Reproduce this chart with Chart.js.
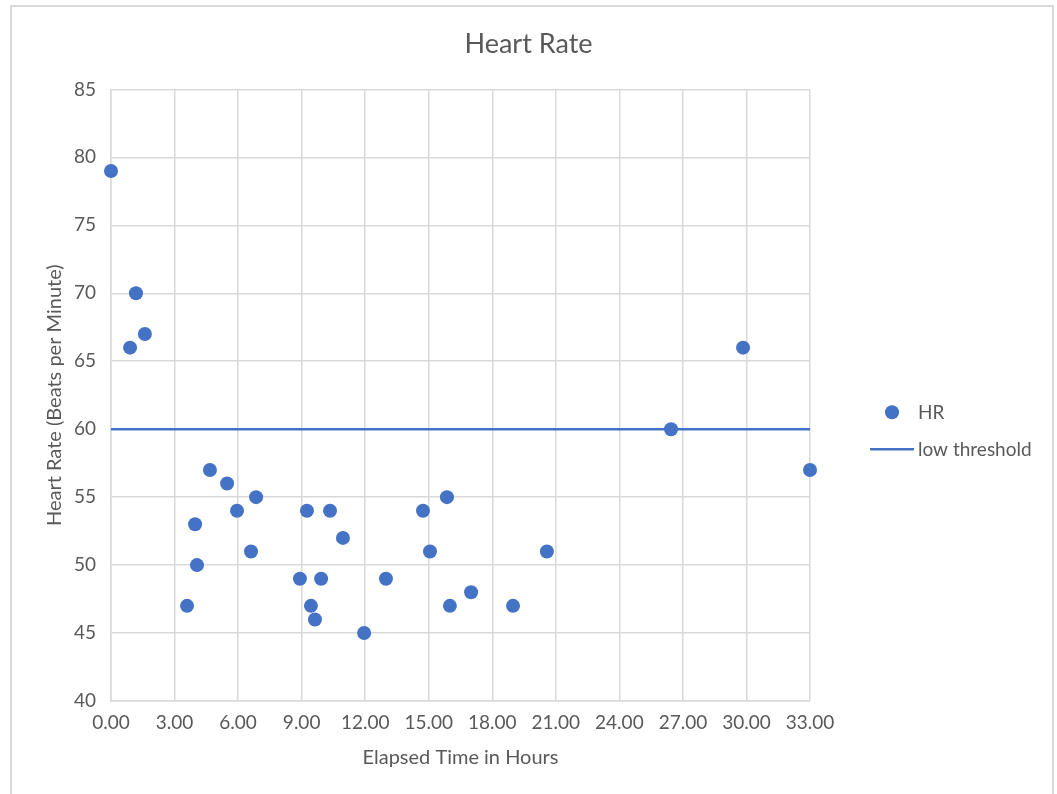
<!DOCTYPE html>
<html>
<head>
<meta charset="utf-8">
<script src="https://cdn.jsdelivr.net/npm/chart.js@4.4.0/dist/chart.umd.min.js"></script>
<style>
  body { margin: 0; background: #fff; }
  #frame { position: absolute; left: 10px; top: 5px; width: 1040px; height: 800px; border: 2px solid #d9d9d9; }
  #myChart { position: absolute; left: 0; top: 0; }
</style>
</head>
<body>
<div id="frame"></div>
<canvas id="myChart" width="1057" height="794"></canvas>
<script>
// heart rate scatter

const hours = [0, 0.9, 1.18, 1.6, 3.59, 3.97, 4.06, 4.67, 5.48, 5.95, 6.61, 6.85,
  8.92, 9.25, 9.44, 9.63, 9.92, 10.34, 10.95, 11.95, 12.98, 14.73, 15.06, 15.86,
  16.0, 17.0, 18.98, 20.58, 26.44, 29.84, 33.0];
const hr = [79, 66, 70, 67, 47, 53, 50, 57, 56, 54, 51, 55,
  49, 54, 47, 46, 49, 54, 52, 45, 49, 54, 51, 55,
  47, 48, 47, 51, 60, 66, 57];

const threshX = [0, 33];
const threshY = [60, 60];

const blue = '#4472C4';
const textGrey = '#595959';
const gridGrey = '#d9d9d9';
const font = 'Lato, "Open Sans", sans-serif';

// legend drawn by hand so it sits where Excel puts it
const sideLegend = {
  id: 'sideLegend',
  afterDraw(chart) {
    const ctx = chart.ctx;
    const area = chart.chartArea;
    const x0 = area.right + 60;
    const yMid = (area.top + area.bottom) / 2 + 35;
    ctx.save();
    ctx.font = '19px ' + font;
    ctx.textBaseline = 'middle';
    chart.data.datasets.forEach((ds, i) => {
      const y = yMid - 18 + i * 37;
      if (ds.showLine) {
        ctx.strokeStyle = ds.borderColor;
        ctx.lineWidth = ds.borderWidth;
        ctx.beginPath();
        ctx.moveTo(x0, y);
        ctx.lineTo(x0 + 44, y);
        ctx.stroke();
      } else {
        ctx.fillStyle = ds.backgroundColor;
        ctx.beginPath();
        ctx.arc(x0 + 22, y, 7, 0, Math.PI * 2);
        ctx.fill();
      }
      ctx.fillStyle = textGrey;
      ctx.fillText(ds.label, x0 + 48, y + 1);
    });
    ctx.restore();
  }
};

const data = {
  datasets: [{
    label: 'HR',
    data: hours.map((h, i) => ({x: h, y: hr[i]})),
    backgroundColor: blue,
    borderWidth: 0,
    pointRadius: 7,
    pointHoverRadius: 7,
    clip: false
  },
  {
    label: 'low threshold',
    data: threshX.map((h, i) => ({x: h, y: threshY[i]})),
    showLine: true,
    borderColor: blue,
    backgroundColor: blue,
    borderWidth: 2.5,
    pointRadius: 0,
    clip: false
  }]
};

const config = {
  type: 'scatter',
  data: data,
  options: {
    responsive: false,
    animation: false,
    layout: { padding: 0 },
    plugins: {
      legend: { display: false },
      tooltip: { enabled: false },
      title: {
        display: true,
        text: 'Heart Rate',
        color: textGrey,
        font: { family: font, size: 27, weight: 'normal' },
        padding: { top: 28, bottom: 29 }
      }
    },
    scales: {
      x: {
        type: 'linear',
        min: 0,
        max: 33,
        afterFit: (s) => { s.height = 93; },
        ticks: {
          stepSize: 3,
          color: textGrey,
          padding: 10,
          font: { family: font, size: 19 },
          callback: (v) => v.toFixed(2)
        },
        grid: { color: gridGrey, lineWidth: 1.5, drawTicks: false },
        border: { color: gridGrey, width: 1.5 },
        title: {
          display: true,
          text: 'Elapsed Time in Hours',
          color: textGrey,
          font: { family: font, size: 20 },
          padding: { top: 24, bottom: 24 }
        }
      },
      y: {
        min: 40,
        max: 85,
        afterFit: (s) => { s.width = 111; },
        ticks: {
          stepSize: 5,
          color: textGrey,
          padding: 15,
          font: { family: font, size: 19 }
        },
        grid: { color: gridGrey, lineWidth: 1.5, drawTicks: false },
        border: { color: gridGrey, width: 1.5 },
        title: {
          display: true,
          text: 'Heart Rate (Beats per Minute)',
          color: textGrey,
          font: { family: font, size: 20 },
          padding: { top: 43, bottom: 43 }
        }
      },
      // empty box on the right that leaves room for the legend
      side: {
        position: 'right',
        min: 0,
        max: 1,
        afterFit: (s) => { s.width = 247; },
        ticks: { display: false },
        grid: { display: false },
        border: { display: false }
      }
    }
  },
  plugins: [sideLegend]
};

const myChart = new Chart(document.getElementById('myChart'), config);
</script>
</body>
</html>
